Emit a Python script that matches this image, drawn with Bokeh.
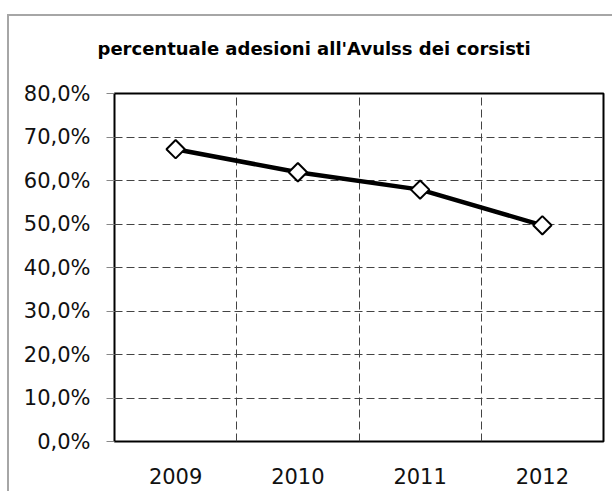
from bokeh.plotting import figure
from bokeh.models import (FixedTicker, CustomJSTickFormatter, Title, ColumnDataSource)
from bokeh.embed import file_html
from bokeh.resources import INLINE

years = ["2009", "2010", "2011", "2012"]
adesioni = [0.672, 0.619, 0.579, 0.497]
y_ticks = [0.0, 0.1, 0.2, 0.3, 0.4, 0.5, 0.6, 0.7, 0.8]
title_text = "percentuale adesioni all'Avulss dei corsisti"

src = ColumnDataSource(dict(year=years, val=adesioni))

frame_css = {
    "background-image": "linear-gradient(#a6a6a6, #a6a6a6), linear-gradient(#a6a6a6, #a6a6a6)",
    "background-size": "2px 100%, 100% 2px",
    "background-position": "7px 14px, 7px 14px",
    "background-repeat": "no-repeat",
    "background-color": "white",
}

p = figure(x_range=years, y_range=(0, 0.8), width=612, height=491,
           output_backend="svg", toolbar_location=None,
           min_border_left=114, min_border_right=9, min_border_top=93, min_border_bottom=50,
           styles=frame_css)

p.background_fill_color = "white"
p.border_fill_color = None
p.outline_line_color = "black"
p.outline_line_width = 2

t = Title(text=title_text, align="left", text_font="DejaVu Sans", text_font_style="bold",
          text_font_size="18px", text_color="black", standoff=70, offset=-17)
p.add_layout(t, "above")

p.line("year", "val", source=src, line_color="black", line_width=4.5)
p.scatter("year", "val", source=src, marker="square", angle=0.785398, size=13,
          fill_color="white", line_color="black", line_width=2)

p.yaxis.ticker = FixedTicker(ticks=y_ticks)
p.yaxis.formatter = CustomJSTickFormatter(code="return (tick*100).toFixed(1).replace('.', ',') + '%';")
p.yaxis.major_label_text_font = "DejaVu Sans"
p.yaxis.major_label_text_font_size = "21px"
p.yaxis.major_label_text_color = "#111111"
p.yaxis.major_tick_out = 8
p.yaxis.major_tick_in = 0
p.yaxis.major_tick_line_color = "#888888"
p.yaxis.minor_tick_line_color = None
p.yaxis.axis_line_color = None
p.yaxis.major_label_standoff = 16

p.xaxis.major_label_text_font = "DejaVu Sans"
p.xaxis.major_label_text_font_size = "21px"
p.xaxis.major_label_text_color = "#111111"
p.xaxis.major_tick_line_color = None
p.xaxis.axis_line_color = None
p.xaxis.major_label_standoff = 20

p.ygrid.ticker = FixedTicker(ticks=y_ticks)
p.ygrid.grid_line_color = "#444444"
p.ygrid.grid_line_dash = "8 4"
p.ygrid.grid_line_width = 1
p.xgrid.ticker = FixedTicker(ticks=[1, 2, 3])
p.xgrid.grid_line_color = "#444444"
p.xgrid.grid_line_dash = "8 4"
p.xgrid.grid_line_width = 1

open("out.html", "w").write(file_html(p, INLINE))
